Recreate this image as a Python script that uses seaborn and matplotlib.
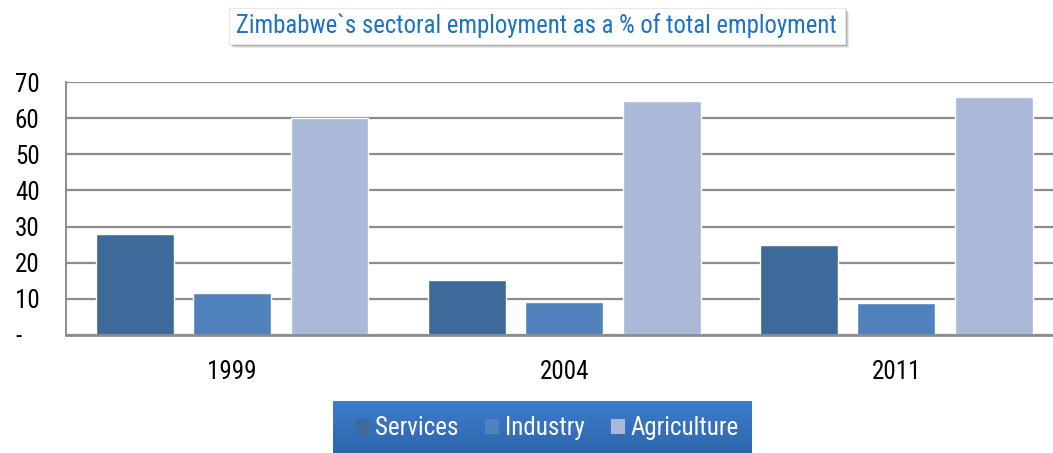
import matplotlib
matplotlib.use("Agg")
import matplotlib.pyplot as plt
import matplotlib.font_manager as fm
from matplotlib.patches import Rectangle, Patch
import numpy as np
import pandas as pd
import seaborn as sns

years = ["1999", "2004", "2011"]
services = [28.0, 15.2, 24.9]
industry = [11.7, 9.1, 8.9]
agriculture = [60.0, 64.8, 65.9]
sectors = ["Services", "Industry", "Agriculture"]
colors = ["#3E6A9A", "#4F81BD", "#AAB9D7"]
yticks = [0, 10, 20, 30, 40, 50, 60, 70]
ytick_labels = ["-   ", "10", "20", "30", "40", "50", "60", "70"]
title = "Zimbabwe`s sectoral employment as a % of total employment"

df = pd.DataFrame({
    "year": years * 3,
    "sector": [s for s in sectors for _ in years],
    "value": services + industry + agriculture,
})

sns.set_theme(style="white")
installed = {f.name for f in fm.fontManager.ttflist}
family = "Liberation Sans"
for cand in ["Liberation Sans Narrow", "Arial Narrow", "Roboto Condensed",
             "Archivo Narrow", "Arimo", "Liberation Sans"]:
    if cand in installed:
        family = cand
        break
plt.rcParams["font.family"] = [family, "DejaVu Sans"]

fig = plt.figure(figsize=(10.53, 4.53), dpi=100)
W, H = 1053, 453

def fx(px):
    return px / W

def fy(py):
    return 1 - py / H

ax = fig.add_axes([fx(66), fy(335), fx(1062.5) - fx(66), fy(82) - fy(335)])
sns.barplot(data=df, x="year", y="value", hue="sector", order=years,
            hue_order=sectors, palette=colors, width=0.88, gap=0.2,
            saturation=1, ax=ax, legend=False)

ax.set_ylim(0, 70)
ax.set_yticks(yticks)
ax.set_yticklabels(ytick_labels)
ax.set_xlabel("")
ax.set_ylabel("")
ax.yaxis.grid(True, color="#8C8C8C", linewidth=1.6)
ax.set_axisbelow(True)
for side in ["top", "right"]:
    ax.spines[side].set_visible(False)
ax.spines["left"].set_color("#8C8C8C")
ax.spines["left"].set_linewidth(1.4)
ax.spines["bottom"].set_color("#8C8C8C")
ax.spines["bottom"].set_linewidth(2)
ax.tick_params(axis="y", length=0, pad=19, labelsize=18, labelcolor="black")
ax.tick_params(axis="x", length=0, pad=18, labelsize=18, labelcolor="black")

# title box with soft shadow
for i, a in enumerate([0.08, 0.12, 0.16]):
    off = 4 - i
    fig.patches.append(Rectangle((fx(229) + fx(off), fy(44) - off / H),
                                 fx(845) - fx(229), fy(8) - fy(44),
                                 transform=fig.transFigure, facecolor="black",
                                 alpha=a, edgecolor="none", zorder=1))
fig.patches.append(Rectangle((fx(229), fy(44)), fx(845) - fx(229), fy(8) - fy(44),
                             transform=fig.transFigure, facecolor="white",
                             edgecolor="#E8E8E8", linewidth=0.8, zorder=2))
fig.text(fx(536), fy(26), title, ha="center", va="center", fontsize=17.8,
         color="#1C72C4", zorder=3)

# legend panel with vertical gradient
lax = fig.add_axes([fx(333), 0, fx(752) - fx(333), fy(401)], zorder=0)
grad = np.linspace(0, 1, 100).reshape(-1, 1)
top_c = np.array([0x3C, 0x7D, 0xCD]) / 255
bot_c = np.array([0x2E, 0x66, 0xAE]) / 255
img = top_c * (1 - grad[..., None]) + bot_c * grad[..., None]
img = np.repeat(img, 2, axis=1)
lax.imshow(img, aspect="auto", extent=[0, 1, 0, 1], origin="upper")
lax.set_axis_off()

handles = [Patch(facecolor=c, edgecolor="none") for c in colors]
fig.legend(handles, sectors, loc="center", bbox_to_anchor=(fx(547), fy(428)),
           ncol=3, frameon=False, fontsize=18, handlelength=0.56,
           handleheight=0.56, handletextpad=0.24, columnspacing=1.04,
           borderpad=0, borderaxespad=0, labelcolor="white")

fig.savefig("out.png", dpi=100)
